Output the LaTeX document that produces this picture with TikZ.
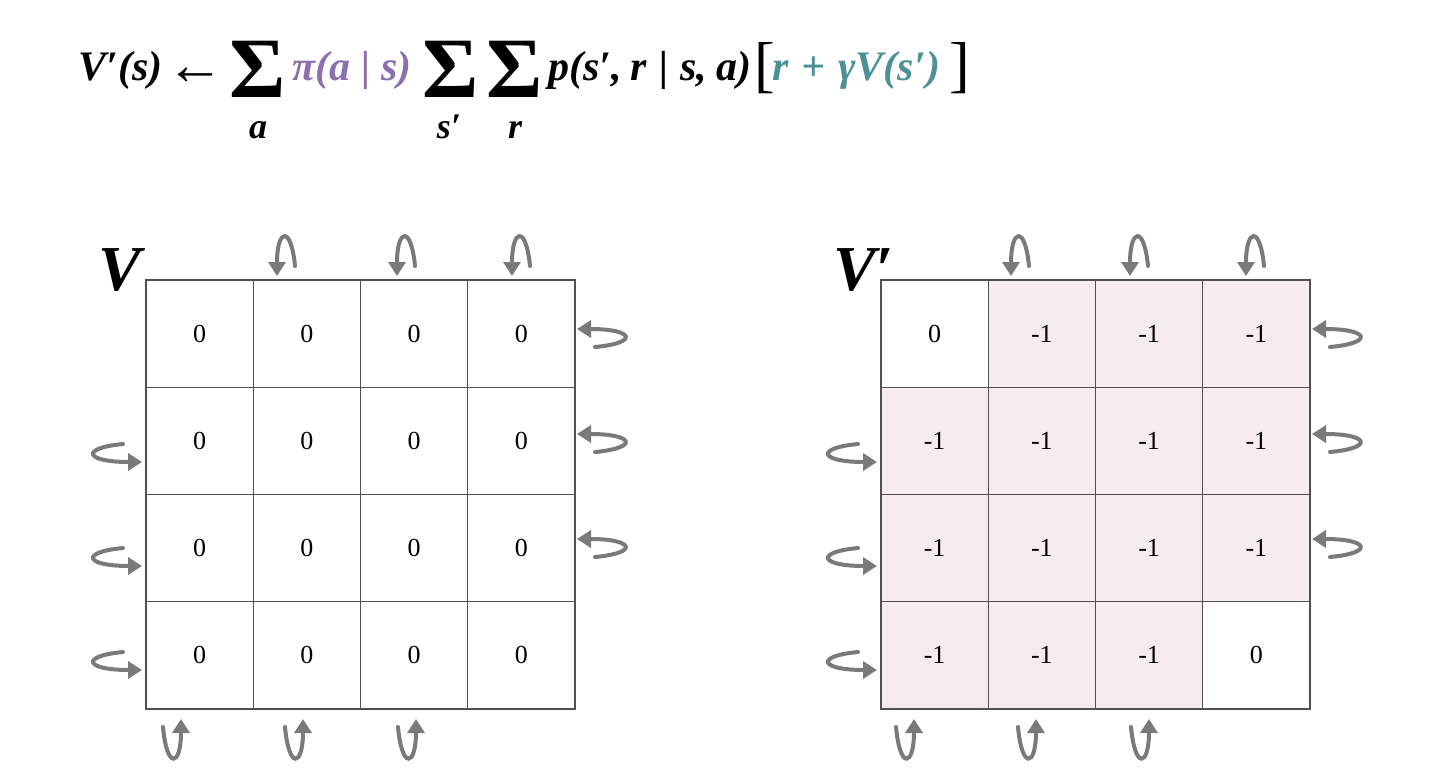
\documentclass[tikz,border=0pt]{standalone}
\usepackage{fontspec}
\setmainfont{Liberation Serif}
\usetikzlibrary{arrows.meta}
\definecolor{gridline}{HTML}{505050}
\definecolor{arrowgray}{HTML}{7A7A7A}
\definecolor{pinkcell}{HTML}{F6ECEF}
\definecolor{piPurple}{HTML}{8B6FAE}
\definecolor{tealc}{HTML}{4B9196}
\begin{document}
\begin{tikzpicture}[x=1pt,y=-1pt,
  cellbox/.style={draw=gridline,line width=1.3pt,minimum width=107.25pt,minimum height=107.25pt,inner sep=0pt,anchor=center,font=\fontsize{26}{26}\selectfont},
  pinkbox/.style={cellbox,fill=pinkcell},
  eqtext/.style={anchor=base west,inner sep=0pt,font=\fontsize{42}{42}\selectfont\bfseries\itshape},
  sumsign/.style={inner sep=0pt,anchor=base,text depth=0pt,font=\fontsize{86}{86}\selectfont\bfseries},
  subtext/.style={inner sep=0pt,anchor=base,text height=21pt,text depth=0pt,font=\fontsize{36}{36}\selectfont\bfseries\itshape},
  bigbrack/.style={inner sep=0pt,anchor=center,font=\fontsize{62}{62}\selectfont},
  gridlabel/.style={inner sep=0pt,anchor=base west,font=\fontsize{64}{64}\selectfont\bfseries\itshape},
  pics/uturn/.style n args={2}{code={
    \draw[arrowgray,line width=4pt,line cap=round,-{Triangle[width=17pt,length=14pt]}]
      (-18,#2) .. controls (-14,1.35*#1) and (0,1.25*#1) .. (0,0);
  }}]
\useasboundingbox (0,0) rectangle (1440,771);

% ---------- formula ----------
\node[eqtext] (lhs) at (78,80) {V′(s)};
\node[inner sep=0pt,anchor=base west,font=\fontsize{58}{58}\selectfont] (larrow) at (166,84) {←};
\node[sumsign] (sumA) at (258,97) {Σ};
\node[subtext] (subA) at (258,138) {a};
\node[eqtext,text=piPurple] (pol) at (292,80) {π(a\hspace{11pt}|\hspace{11pt}s)};
\node[sumsign] (sumS) at (451,97) {Σ};
\node[subtext] (subS) at (449,138) {s′};
\node[sumsign] (sumR) at (515,97) {Σ};
\node[subtext] (subR) at (515,138) {r};
\node[eqtext] (prob) at (548,80) {p(s′,\hspace{9pt}r\hspace{12pt}|\hspace{12pt}s,\hspace{9pt}a)};
\node[bigbrack] (lb) at (765,68) {[};
\node[eqtext,text=tealc] (ret) at (772,80) {r\hspace{13pt}+\hspace{13pt}γV(s′)};
\node[bigbrack] (rb) at (960,68) {]};

% ---------- left grid V ----------
\node[gridlabel] (vlab) at (98,290) {V};
\foreach \i in {0,...,3}{
  \foreach \j in {0,...,3}{
    \node[cellbox] (L\i\j) at ({146+107.25*(\i+0.5)},{280+107.25*(\j+0.5)}) {0};
  }
}
% ---------- right grid V' ----------
\node[gridlabel] (vplab) at (833,290) {V′};
\foreach \i in {0,...,3}{
  \foreach \j in {0,...,3}{
    \pgfmathtruncatemacro{\corner}{(\i==0 && \j==0) || (\i==3 && \j==3) ? 1 : 0}
    \ifnum\corner=1
      \node[cellbox] (R\i\j) at ({881+107.25*(\i+0.5)},{280+107.25*(\j+0.5)}) {0};
    \else
      \node[pinkbox] (R\i\j) at ({881+107.25*(\i+0.5)},{280+107.25*(\j+0.5)}) {-1};
    \fi
  }
}

% ---------- U-turn arrows, left grid ----------
\foreach \x in {277,397,512}{ \pic[rotate=180] at (\x,276) {uturn={38}{10}}; }
\foreach \y in {329,434,539}{ \pic[rotate=90] at (577,\y) {uturn={46}{18}}; }
\foreach \y in {462,566,670}{ \pic[rotate=-90] at (142,\y) {uturn={46}{19}}; }
\foreach \x in {181,303,416}{ \pic at (\x,719) {uturn={38}{8}}; }

% ---------- U-turn arrows, right grid ----------
\foreach \x in {1011,1130,1246}{ \pic[rotate=180] at (\x,276) {uturn={38}{10}}; }
\foreach \y in {329,434,539}{ \pic[rotate=90] at (1312,\y) {uturn={46}{18}}; }
\foreach \y in {462,566,670}{ \pic[rotate=-90] at (877,\y) {uturn={46}{19}}; }
\foreach \x in {914,1036,1149}{ \pic at (\x,719) {uturn={38}{8}}; }
\end{tikzpicture}
\end{document}
